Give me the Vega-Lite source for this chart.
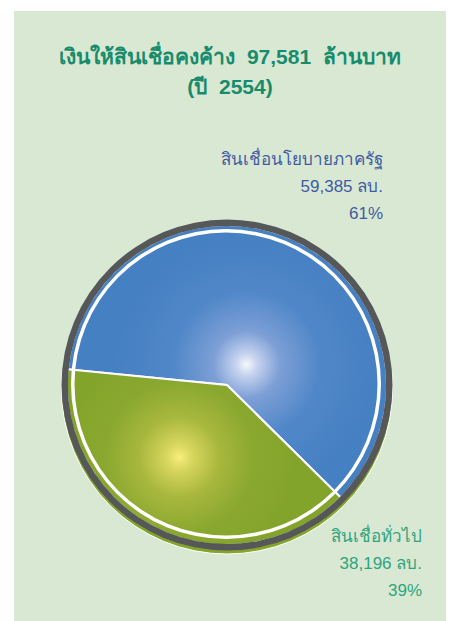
{
  "$schema": "https://vega.github.io/schema/vega-lite/v6.json",
  "autosize": {"type": "none"},
  "width": 432,
  "height": 610,
  "padding": {"left": 14, "top": 11, "right": 8, "bottom": 0},
  "background": "white",
  "view": {"fill": "#d9e8d3", "stroke": null},
  "title": {
    "text": ["เงินให้สินเชื่อคงค้าง\u00a0 97,581\u00a0 ล้านบาท", "(ปี\u00a0 2554)"],
    "font": "Liberation Sans",
    "fontSize": 21,
    "fontWeight": "bold",
    "color": "#178c6c",
    "anchor": "middle",
    "baseline": "alphabetic",
    "lineHeight": 30,
    "offset": -104
  },
  "data": {
    "values": [
      {"category": "สินเชื่อนโยบายภาครัฐ", "amount": 59385, "share": 61, "label": ["สินเชื่อนโยบายภาครัฐ", "59,385 ลบ.", "61%"]},
      {"category": "สินเชื่อทั่วไป", "amount": 38196, "share": 39, "label": ["สินเชื่อทั่วไป", "38,196 ลบ.", "39%"]}
    ]
  },
  "layer": [
    {
      "data": {"values": [{"part": "shadow"}]},
      "mark": {"type": "arc", "radius": 165.5, "theta": 0, "theta2": 6.2832, "fill": "#84a42b", "stroke": "white", "strokeWidth": 1, "xOffset": -3, "yOffset": 72.5},
      "encoding": {}
    },
    {
      "mark": {"type": "arc", "radius": 160, "stroke": "white", "strokeWidth": 2, "xOffset": -3, "yOffset": 69},
      "encoding": {
        "theta": {"field": "amount", "type": "quantitative", "stack": true, "scale": {"range": [2.351, 8.634]}},
        "order": {"field": "amount", "sort": "ascending"},
        "fill": {
          "condition": {
            "test": "datum.category === 'สินเชื่อทั่วไป'",
            "value": {"gradient": "radial", "x1": 0.41, "y1": 0.5, "r1": 0, "x2": 0.41, "y2": 0.5, "r2": 0.42,
              "stops": [{"offset": 0, "color": "#f8ee7c"}, {"offset": 0.12, "color": "#d6d55c"}, {"offset": 0.35, "color": "#a8b73e"}, {"offset": 0.65, "color": "#8aa82f"}, {"offset": 1, "color": "#83a42a"}]}
          },
          "value": {"gradient": "radial", "x1": 0.56, "y1": 0.51, "r1": 0, "x2": 0.56, "y2": 0.51, "r2": 0.42,
            "stops": [{"offset": 0, "color": "#f6f8fd"}, {"offset": 0.08, "color": "#c6d3ee"}, {"offset": 0.25, "color": "#7d9fd6"}, {"offset": 0.55, "color": "#5087c8"}, {"offset": 1, "color": "#4580c2"}]}
        }
      }
    },
    {
      "data": {"values": [{"part": "white ring"}]},
      "mark": {"type": "arc", "radius": 155, "radius2": 151.5, "theta": 0, "theta2": 6.2832, "fill": "white", "xOffset": -4, "yOffset": 68},
      "encoding": {}
    },
    {
      "data": {"values": [{"part": "dark ring"}]},
      "mark": {"type": "arc", "radius": 165.5, "radius2": 159, "theta": 0, "theta2": 6.2832, "fill": "#555759", "xOffset": -3, "yOffset": 69},
      "encoding": {}
    },
    {
      "transform": [{"filter": "datum.category === 'สินเชื่อนโยบายภาครัฐ'"}],
      "mark": {"type": "text", "align": "right", "baseline": "alphabetic", "font": "Liberation Sans", "fontSize": 17, "lineHeight": 27, "color": "#3f5ba1", "dx": 153, "dy": -151},
      "encoding": {"text": {"field": "label", "type": "nominal"}}
    },
    {
      "transform": [{"filter": "datum.category === 'สินเชื่อทั่วไป'"}],
      "mark": {"type": "text", "align": "right", "baseline": "alphabetic", "font": "Liberation Sans", "fontSize": 17, "lineHeight": 27, "color": "#2da57e", "dx": 192, "dy": 226},
      "encoding": {"text": {"field": "label", "type": "nominal"}}
    }
  ]
}
